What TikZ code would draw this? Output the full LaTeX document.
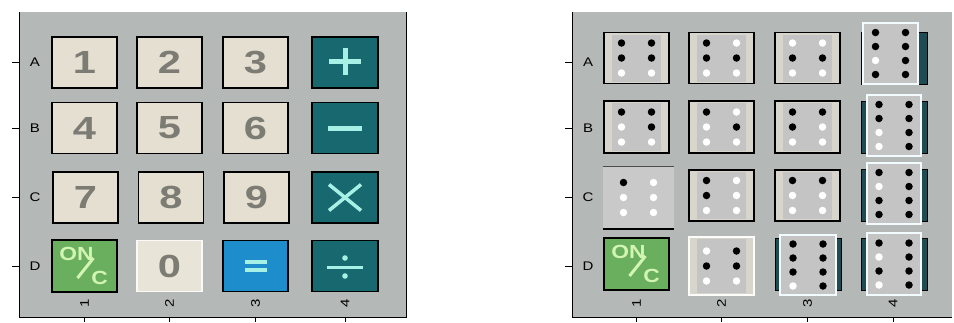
\documentclass[tikz,border=0pt]{standalone}
\usepackage{fontspec}
\setmainfont{Liberation Sans}[FakeStretch=1.2]
\newfontfamily\keyfont{Liberation Sans}[FakeStretch=1.3]
\usetikzlibrary{positioning,calc}
\definecolor{panelgray}{HTML}{B4B8B7}
\definecolor{keybeige}{HTML}{E4DFD1}
\definecolor{digitgray}{HTML}{7C7C74}
\definecolor{tealkey}{HTML}{18696F}
\definecolor{tealdark}{HTML}{1E4C52}
\definecolor{symcyan}{HTML}{A6F0E6}
\definecolor{bluekey}{HTML}{1D8DCB}
\definecolor{greenkey}{HTML}{6AAF5E}
\definecolor{greentxt}{HTML}{D2F4B4}
\definecolor{cellbeige}{HTML}{D8D5CD}
\definecolor{cellgray}{HTML}{C4C4C4}

% braille dots of one cell: node, rows, left column, right column
\newcommand{\brl}[4]{%
  \foreach \v [count=\i] in {#3} {
    \pgfmathsetmacro{\dy}{(\i-(#2+1)/2)*((#2==3) ? 15 : 14)}
    \ifnum\v=1 \def\dc{black}\else\def\dc{white}\fi
    \node[brldot=\dc] (#1l\i) at ($(#1)+(-15,\dy)$) {};
  }
  \foreach \v [count=\i] in {#4} {
    \pgfmathsetmacro{\dy}{(\i-(#2+1)/2)*((#2==3) ? 15 : 14)}
    \ifnum\v=1 \def\dc{black}\else\def\dc{white}\fi
    \node[brldot=\dc] (#1r\i) at ($(#1)+(15,\dy)$) {};
  }%
}

\begin{document}
\begin{tikzpicture}[x=1pt, y=-1pt,
    axis/.style={line width=1pt, black},
    rowlbl/.style={font=\fontsize{12.5}{14}\selectfont, inner sep=0},
    collbl/.style={font=\fontsize{12.5}{14}\selectfont, inner sep=0, rotate=90},
    numkey/.style={draw=black, line width=1.2pt, fill=keybeige, minimum width=65pt,
        minimum height=51pt, inner sep=0, text=digitgray, font=\keyfont\fontsize{32}{32}\selectfont\bfseries},
    zerokey/.style={numkey, draw=white!85!keybeige, fill=keybeige!85!white},
    opkey/.style={draw=black, line width=1.2pt, fill=tealkey, minimum width=66pt,
        minimum height=51pt, inner sep=0},
    eqkey/.style={opkey, fill=bluekey, minimum width=65pt},
    onkey/.style={opkey, fill=greenkey, minimum width=65pt, minimum height=52pt},
    ontxt/.style={text=greentxt, inner sep=0, font=\fontsize{19}{19}\selectfont\bfseries},
    onslash/.style={greentxt, line width=3pt},
    sym/.style={symcyan, line width=5pt},
    dotkey/.style={draw=black, line width=1.2pt, fill=cellbeige, minimum width=65pt,
        minimum height=51pt, inner sep=0,
        path picture={\fill[cellgray] ([shift={(8pt,-2pt)}]path picture bounding box.north west)
            rectangle ([shift={(-8pt,2pt)}]path picture bounding box.south east);}},
    lightkey/.style={dotkey, draw=white!92!cellbeige, line width=1.6pt},
    flatkey/.style={fill=cellgray!92!white, minimum width=71pt, minimum height=63pt, inner sep=0},
    tallkey/.style={draw=white!95!cyan, line width=1.6pt, fill=cellgray, minimum width=54pt,
        minimum height=61pt, inner sep=0},
    tealbar/.style={draw=black, line width=0.8pt, fill=tealdark, minimum width=66pt,
        minimum height=52pt, inner sep=0},
    brldot/.style={circle, fill=#1, inner sep=0, minimum size=7.5pt}
  ]
  \useasboundingbox (0,0) rectangle (954,322);

  % panels and axes
  \fill[panelgray] (19,12) rectangle (406,317);
  \fill[panelgray] (572,12) rectangle (952,317);
  \draw[axis] (19,12) -- (19,317) -- (406,317) -- (406,12);
  \draw[axis] (572,12) -- (572,317) -- (952,317);

  \foreach \r/\y in {A/62.5,B/128,C/197.5,D/266} {
    \draw[axis] (12,\y) -- (19,\y);
    \node[rowlbl] (lrow\r) at (35,\y) {\r};
    \draw[axis] (565,\y) -- (572,\y);
    \node[rowlbl] (rrow\r) at (588,\y) {\r};
  }
  \foreach \c/\x/\xr in {1/84.5/636.5,2/169.5/721.5,3/255.5/807.5,4/345/893} {
    \draw[axis] (\x,317) -- (\x,322);
    \node[collbl] (lcol\c) at (\x,303) {\c};
    \draw[axis] (\xr,317) -- (\xr,322);
    \node[collbl] (rcol\c) at (\xr,303) {\c};
  }

  % left keypad
  \foreach \t/\x/\y in {1/84.5/62.5,2/169.5/62.5,3/255.5/62.5,
                        4/84.5/128,5/169.5/128,6/255.5/128,
                        7/85.5/197.5,8/171/197.5,9/256.5/197.5}
    \node[numkey] (k\t) at (\x,\y) {\t};
  \node[zerokey] (k0) at (169.5,266) {0};
  \node[opkey] (kplus) at (345,62.5) {};
  \node[opkey] (kminus) at (345,128) {};
  \node[opkey] (ktimes) at (345,197.5) {};
  \node[opkey] (kdiv) at (345,266) {};
  \node[eqkey] (keq) at (255.5,266) {};
  \node[onkey] (lon) at (84.5,266) {};

  \draw[sym] ($(kplus)+(-16,-1)$) -- ($(kplus)+(16,-1)$);
  \draw[sym] ($(kplus)+(0,-14.5)$) -- ($(kplus)+(0,12.5)$);
  \draw[sym] ($(kminus)+(-17,0)$) -- ($(kminus)+(17,0)$);
  \draw[sym, line width=3.5pt] ($(ktimes)+(-16,-13)$) -- ($(ktimes)+(16,13)$);
  \draw[sym, line width=3.5pt] ($(ktimes)+(-16,13)$) -- ($(ktimes)+(16,-13)$);
  \draw[sym, line width=3pt] ($(kdiv)+(-18,1)$) -- ($(kdiv)+(18,1)$);
  \fill[symcyan] ($(kdiv)+(0,-8)$) circle (2.8pt);
  \fill[symcyan] ($(kdiv)+(0,10)$) circle (2.8pt);
  \draw[sym, line width=3.5pt] ($(keq)+(-11,-4)$) -- ($(keq)+(11,-4)$);
  \draw[sym, line width=3.5pt] ($(keq)+(-11,4)$) -- ($(keq)+(11,4)$);

  % right keypad
  \node[dotkey] (ra1) at (636.5,58) {};
  \node[dotkey] (ra2) at (721.5,58) {};
  \node[dotkey] (ra3) at (807.5,58) {};
  \node[tealbar] (bar-a4) at (894,58) {};
  \node[tallkey, minimum width=55pt] (ra4) at (890.5,53.5) {};
  \node[dotkey, minimum height=52pt] (rb1) at (636.5,127) {};
  \node[dotkey, minimum height=52pt] (rb2) at (721.5,127) {};
  \node[dotkey, minimum height=52pt] (rb3) at (807.5,127) {};
  \node[tealbar] (bar-b4) at (894,127) {};
  \node[tallkey] (rb4) at (894,125.5) {};
  \node[flatkey] (rc1) at (638.5,197.5) {};
  \draw[line width=0.6pt, black!70] (rc1.north west) -- (rc1.north east);
  \draw[line width=2pt] (rc1.south west) -- (rc1.south east);
  \node[dotkey] (rc2) at (721.5,195.5) {};
  \node[dotkey] (rc3) at (807.5,195.5) {};
  \node[tealbar] (bar-c4) at (894,195.5) {};
  \node[tallkey] (rc4) at (894,193.5) {};
  \node[onkey] (ron) at (636.5,264) {};
  \node[lightkey, minimum height=58pt] (rd2) at (721.5,266) {};
  \node[tealbar] (bar-d3) at (808,264) {};
  \node[tallkey, minimum width=56pt, minimum height=60pt] (rd3) at (808,265) {};
  \node[tealbar] (bar-d4) at (894,264) {};
  \node[tallkey, minimum height=62pt] (rd4) at (894,264) {};

  \brl{ra1}{3}{1,1,0}{1,1,0}
  \brl{ra2}{3}{1,1,0}{0,1,0}
  \brl{ra3}{3}{0,1,0}{0,1,0}
  \brl{ra4}{4}{1,1,0,1}{1,1,1,1}
  \brl{rb1}{3}{1,0,0}{1,1,0}
  \brl{rb2}{3}{1,0,0}{0,1,0}
  \brl{rb3}{3}{1,1,0}{1,0,0}
  \brl{rb4}{4}{1,1,0,0}{1,1,1,1}
  \brl{rc1}{3}{1,0,0}{0,0,0}
  \brl{rc2}{3}{1,1,0}{0,0,0}
  \brl{rc3}{3}{1,0,0}{1,0,0}
  \brl{rc4}{4}{1,0,1,1}{1,1,1,1}
  \brl{rd2}{3}{0,1,0}{1,1,0}
  \brl{rd3}{4}{1,1,1,0}{1,1,1,1}
  \brl{rd4}{4}{1,0,1,0}{1,1,1,1}

  % ON/C labels
  \foreach \k in {lon,ron} {
    \node[ontxt] (\k-on) at ($(\k)+(-8,-12)$) {ON};
    \draw[onslash] ($(\k)+(-7,12)$) -- ($(\k)+(9,-8)$);
    \node[ontxt] (\k-c) at ($(\k)+(15,12)$) {C};
  }
\end{tikzpicture}
\end{document}
